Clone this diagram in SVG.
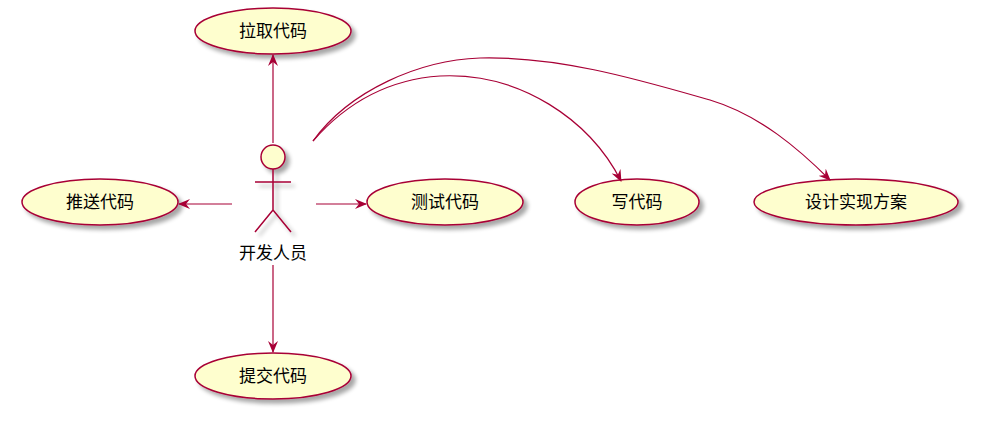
<svg xmlns="http://www.w3.org/2000/svg" width="1006" height="444" viewBox="0 0 1006 444">
<defs>
<filter id="sh" x="-20%" y="-20%" width="150%" height="160%"><feGaussianBlur in="SourceAlpha" stdDeviation="2"/><feOffset dx="4" dy="4"/><feComponentTransfer><feFuncA type="linear" slope="0.35"/></feComponentTransfer><feMerge><feMergeNode/><feMergeNode in="SourceGraphic"/></feMerge></filter>
<marker id="ah" viewBox="0 0 12 10" refX="11" refY="5" markerWidth="12" markerHeight="10" orient="auto" markerUnits="userSpaceOnUse"><path d="M0,0 L12,5 L0,10 L4,5 Z" fill="#A80036"/></marker>
</defs>
<style>
.uc{fill:#FEFECE;stroke:#A80036;stroke-width:1.5;filter:url(#sh)}
.t{font-family:"Noto Sans CJK SC","Liberation Sans",sans-serif;font-size:17px;fill:#000;text-anchor:middle}
.c{fill:none;stroke:#A80036;stroke-width:1.2;marker-end:url(#ah)}
</style>
<rect width="1006" height="444" fill="#fff"/>
<g id="actor" filter="url(#sh)" fill="none" stroke="#A80036" stroke-width="1.5">
<circle cx="273" cy="157" r="12" fill="#FEFECE"/>
<path d="M273,169 V210 M255,182 H291 M273,210 L255,232 M273,210 L291,232"/>
</g>
<text class="t" x="273" y="259">开发人员</text>
<g id="n1"><ellipse class="uc" cx="273" cy="31" rx="78" ry="23"/><text class="t" x="273" y="37">拉取代码</text></g>
<g id="n2"><ellipse class="uc" cx="100" cy="202" rx="78" ry="23"/><text class="t" x="100" y="208">推送代码</text></g>
<g id="n3"><ellipse class="uc" cx="445" cy="202" rx="78" ry="23"/><text class="t" x="445" y="208">测试代码</text></g>
<g id="n4"><ellipse class="uc" cx="637" cy="202" rx="62" ry="23"/><text class="t" x="637" y="208">写代码</text></g>
<g id="n5"><ellipse class="uc" cx="856" cy="202" rx="102" ry="23"/><text class="t" x="856" y="208">设计实现方案</text></g>
<g id="n6"><ellipse class="uc" cx="273" cy="376" rx="78" ry="23"/><text class="t" x="273" y="382">提交代码</text></g>
<g id="connectors">
<path class="c" d="M273,143 V55"/>
<path class="c" d="M232,204 H179"/>
<path class="c" d="M316,204 H366"/>
<path class="c" d="M273,265 V352"/>
<path class="c" d="M313,141 C340,110 380,80 440,76 C520,72 590,120 621,181"/>
<path class="c" d="M313,141 C350,90 420,60 480,58 C560,56 640,80 710,100 C760,115 800,150 830,180"/>
</g>
</svg>
